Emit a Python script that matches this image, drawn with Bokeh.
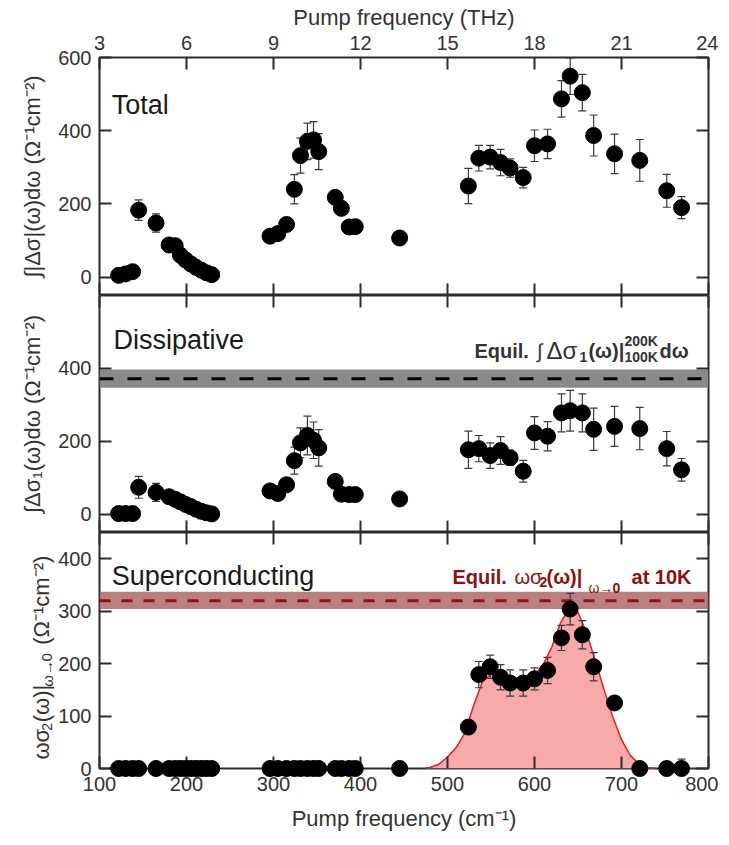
import math
from bokeh.plotting import figure
from bokeh.models import (Range1d, LinearAxis, FixedTicker, ColumnDataSource, Whisker,
                          TeeHead, BoxAnnotation, Span, Label)
from bokeh.core.properties import value
from bokeh.layouts import column
from bokeh.embed import file_html
from bokeh.resources import INLINE

# ---------------- data ----------------
pump_cm = [122, 130, 138, 145, 165, 180, 187, 193, 199, 205, 211, 217, 223, 229,
           296, 305, 315, 324, 331, 339, 346, 352, 371, 378, 387, 394,
           445,
           524, 536, 549, 561, 572, 587, 600, 615, 631, 641, 655, 668, 692, 721, 752, 769]

total = [5, 9, 15, 183, 148, 88, 86, 60, 47, 36, 27, 19, 12, 7,
         112, 119, 144, 240, 332, 371, 375, 343, 218, 188, 137, 138,
         107,
         249, 325, 328, 313, 298, 272, 359, 364, 487, 549, 504, 387, 337, 319, 236, 190]
total_err = [0, 0, 0, 28, 25, 0, 0, 0, 0, 0, 0, 0, 0, 0,
             0, 0, 0, 40, 48, 50, 50, 49, 0, 0, 0, 0,
             0,
             48, 35, 32, 36, 25, 28, 43, 40, 50, 50, 50, 56, 54, 57, 45, 30]

dissip = [2, 2, 2, 74, 60, 48, 41, 34, 27, 21, 14, 8, 4, 1,
          64, 57, 81, 147, 196, 216, 203, 182, 90, 55, 54, 54,
          42,
          177, 180, 161, 175, 155, 118, 223, 214, 278, 284, 278, 233, 241, 235, 180, 122]
dissip_err = [0, 0, 0, 30, 25, 0, 0, 0, 0, 0, 0, 0, 0, 0,
              0, 0, 0, 37, 41, 53, 50, 50, 0, 0, 0, 0,
              0,
              51, 36, 35, 38, 20, 30, 45, 40, 52, 56, 52, 58, 55, 58, 47, 31]

supercond = [0, 0, 0, 0, 0, 0, 0, 0, 0, 0, 0, 0, 0, 0,
             0, 0, 0, 0, 0, 0, 0, 0, 0, 0, 0, 0,
             0,
             79, 179, 194, 174, 163, 163, 171, 187, 249, 304, 255, 194, 125, 0, 0, 0]
supercond_err = [0, 0, 0, 0, 0, 0, 0, 0, 0, 0, 0, 0, 0, 0,
                 0, 0, 0, 0, 0, 0, 0, 0, 0, 0, 0, 0,
                 0,
                 0, 25, 22, 24, 25, 25, 21, 25, 24, 30, 27, 27, 0, 0, 0, 18]

fit_cm = [474, 480, 490, 500, 510, 520, 530, 540, 550, 560, 570, 580, 590, 600, 610,
          620, 630, 640, 650, 660, 670, 680, 690, 700, 710, 720, 730, 740]
fit_val = [0, 2, 8, 22, 40, 68, 120, 165, 180, 180, 172, 167, 170, 178, 198,
           232, 278, 306, 298, 258, 205, 150, 98, 55, 25, 9, 2, 0]

equil_dissip = [347, 372, 397]   # band low, centre, band high
equil_sc = [304, 320, 337]

x_ticks_cm = [100, 200, 300, 400, 500, 600, 700, 800]
x_ticks_thz = [3, 6, 9, 12, 15, 18, 21, 24]
total_yticks = [0, 200, 400, 600]
dissip_yticks = [0, 200, 400]
sc_yticks = [0, 100, 200, 300, 400]

# ---------------- style ----------------
FONT = "Liberation Sans"
INK = "#2b2b2b"
TXT = "#333333"
LEFT, RIGHT, FRAME_W = 99, 10, 609
W = LEFT + FRAME_W + RIGHT


def style_axis(ax, show_labels):
    ax.axis_line_color = None
    ax.major_tick_in = 12
    ax.major_tick_out = 0
    ax.major_tick_line_width = 2
    ax.major_tick_line_color = INK
    ax.minor_tick_line_color = None
    ax.major_label_text_font = FONT
    ax.axis_label_text_font = FONT
    ax.axis_label_text_font_style = "normal"
    ax.axis_label_text_color = TXT
    if show_labels:
        ax.major_label_text_color = TXT
        ax.major_label_text_font_size = "20px"
        ax.axis_label_text_font_size = "22px"
        ax.major_label_standoff = 8
    else:
        ax.major_label_text_color = None
        ax.major_label_text_alpha = 0
        ax.major_label_text_font_size = "0px"
        ax.major_label_standoff = 0


def make_fig(height, yr, yticks, ylabel, top, bottom, top_axis=False, bottom_labels=False):
    p = figure(width=W, height=height, x_range=Range1d(100, 800), y_range=Range1d(*yr),
               output_backend="svg", toolbar_location=None,
               x_axis_location=None, y_axis_location=None,
               min_border_left=LEFT, min_border_right=RIGHT,
               min_border_top=top, min_border_bottom=bottom)
    p.grid.visible = False
    p.outline_line_color = INK
    p.outline_line_width = 2
    p.background_fill_color = "white"
    p.border_fill_color = "white"

    left = LinearAxis(ticker=FixedTicker(ticks=yticks))
    style_axis(left, True)
    if ylabel:
        left.axis_label = ylabel
        left.axis_label_standoff = 10
    p.add_layout(left, "left")

    right = LinearAxis(ticker=FixedTicker(ticks=yticks))
    style_axis(right, False)
    p.add_layout(right, "right")

    below = LinearAxis(ticker=FixedTicker(ticks=x_ticks_cm))
    style_axis(below, bottom_labels)
    if bottom_labels:
        below.axis_label = "Pump frequency (cm\u207b\u00b9)"
        below.axis_label_standoff = 12
    p.add_layout(below, "below")

    if top_axis:
        p.extra_x_ranges = {"thz": Range1d(3, 24)}
        above = LinearAxis(x_range_name="thz", ticker=FixedTicker(ticks=x_ticks_thz),
                           axis_label="Pump frequency (THz)")
        style_axis(above, True)
        above.axis_label_standoff = 3
    else:
        above = LinearAxis(ticker=FixedTicker(ticks=x_ticks_cm))
        style_axis(above, False)
    p.add_layout(above, "above")
    return p


def add_errors(p, x, y, e, level):
    xs = [a for a, d in zip(x, e) if d > 0]
    lo = [b - d for b, d in zip(y, e) if d > 0]
    hi = [b + d for b, d in zip(y, e) if d > 0]
    src = ColumnDataSource(dict(base=xs, lower=lo, upper=hi))
    w = Whisker(source=src, base="base", lower="lower", upper="upper", dimension="height",
                line_color="#3a3a3a", line_width=1.2, level=level,
                upper_head=TeeHead(size=8, line_color="#3a3a3a", line_width=1.2),
                lower_head=TeeHead(size=8, line_color="#3a3a3a", line_width=1.2))
    p.add_layout(w)


def add_text(p, text, x, y, size, color="#1a1a1a", style="normal"):
    p.add_layout(Label(x=x, y=y, text=text, text_font=FONT,
                       text_font_size=size, text_color=color, text_font_style=style,
                       text_baseline="alphabetic", text_align="left"))


def add_vtext(p, text, x, y, size, color=TXT):
    """Rotated (reading upward) text drawn as an unclipped glyph outside the frame."""
    r = p.text(x=[x], y=[y], text=[text], angle=math.pi / 2,
               text_font=value(FONT), text_font_size=value(size), text_color=color,
               text_baseline="alphabetic", text_align="left")
    r.level = "overlay"


# ---------------- top: total ----------------
p1 = make_fig(295, (-50, 600), total_yticks,
              "\u222b|\u0394\u03c3|(\u03c9)d\u03c9 (\u03a9\u207b\u00b9cm\u207b\u00b2)",
              top=57, bottom=0, top_axis=True)
src = ColumnDataSource(dict(x=pump_cm, y=total))
add_errors(p1, pump_cm, total, total_err, "underlay")
p1.scatter("x", "y", source=src, size=16, color="black")
add_text(p1, "Total", 114, 470, "27px")

# ---------------- middle: dissipative ----------------
p2 = make_fig(237, (-50, 600), dissip_yticks,
              "\u222b\u0394\u03c3\u2081(\u03c9)d\u03c9 (\u03a9\u207b\u00b9cm\u207b\u00b2)",
              top=0, bottom=0)
p2.add_layout(BoxAnnotation(bottom=equil_dissip[0], top=equil_dissip[2], fill_color="#8a8a8a",
                            fill_alpha=1.0, line_color=None, level="underlay"))
p2.add_layout(Span(location=equil_dissip[1], dimension="width", line_color="black",
                   line_width=3, line_dash="14 14"))
src = ColumnDataSource(dict(x=pump_cm, y=dissip))
add_errors(p2, pump_cm, dissip, dissip_err, "underlay")
p2.scatter("x", "y", source=src, size=16, color="black")
add_text(p2, "Dissipative", 116, 478, "27px")
DK = "#333333"
add_text(p2, "Equil.", 531, 449, "20px", DK, "bold")
add_text(p2, "\u222b", 603, 449, "20px", DK, "normal")
add_text(p2, "\u0394\u03c3", 613.8, 449, "24px", DK, "normal")
add_text(p2, "1", 651.7, 432, "14px", DK, "bold")
add_text(p2, "(\u03c9)|", 662, 449, "20px", DK, "bold")
add_text(p2, "200K", 703.4, 476, "14px", DK, "bold")
add_text(p2, "100K", 703.4, 432, "14px", DK, "bold")
add_text(p2, "d\u03c9", 743.7, 449, "20px", DK, "bold")

# ---------------- bottom: superconducting ----------------
p3 = make_fig(304, (0, 450), sc_yticks, None, top=0, bottom=68, bottom_labels=True)
p3.add_layout(BoxAnnotation(bottom=equil_sc[0], top=equil_sc[2], fill_color="#b06868",
                            fill_alpha=0.85, line_color=None, level="underlay"))
fit = ColumnDataSource(dict(x=fit_cm, y=fit_val))
p3.varea(x="x", y1=0, y2="y", source=fit, fill_color="#f8a9a9", fill_alpha=1.0)
p3.line("x", "y", source=fit, line_color="#e31f1f", line_width=1.5)
p3.add_layout(Span(location=equil_sc[1], dimension="width", line_color="#8e1414",
                   line_width=3, line_dash="11 11"))
add_errors(p3, pump_cm, supercond, supercond_err, "annotation")
src = ColumnDataSource(dict(x=pump_cm, y=supercond))
r = p3.scatter("x", "y", source=src, size=16, color="black")
r.level = "overlay"
add_text(p3, "Superconducting", 114, 367, "27px")
RD = "#8b1111"
add_text(p3, "Equil.", 505.7, 366, "20px", RD, "bold")
add_text(p3, "\u03c9\u03c3", 577, 366, "20px", RD, "normal")
add_text(p3, "2", 605.7, 355, "14px", RD, "bold")
add_text(p3, "(\u03c9)|", 613.8, 366, "20px", RD, "bold")
add_text(p3, "\u03c9\u2192", 662, 345, "14px", RD, "normal")
add_text(p3, "0", 689.7, 345, "14px", RD, "bold")
add_text(p3, "at 10K", 711.5, 366, "20px", RD, "bold")

# composed y-axis label of the bottom panel (anchors left of the frame)
add_vtext(p3, "\u03c9\u03c3", 33.0, 17, "22px")
add_vtext(p3, "2", 39.9, 72, "14px")
add_vtext(p3, "(\u03c9)|", 33.0, 88, "22px")
add_vtext(p3, "\u03c9\u2192", 39.9, 156, "15px")
add_vtext(p3, "0", 39.9, 204, "15px")
add_vtext(p3, "(\u03a9\u207b\u00b9cm\u207b\u00b2)", 33.0, 236, "22px")

layout = column(p1, p2, p3, spacing=0)
open("out.html", "w").write(file_html(layout, INLINE))
